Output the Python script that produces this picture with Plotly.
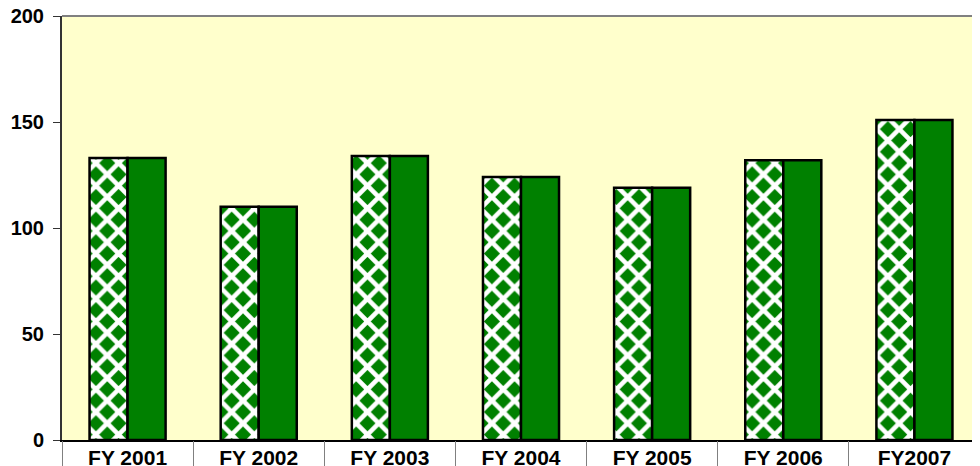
import plotly.graph_objects as go

categories = ["FY 2001", "FY 2002", "FY 2003", "FY 2004", "FY 2005", "FY 2006", "FY2007"]
series_a = [133, 110, 134, 124, 119, 132, 151]
series_b = [133, 110, 134, 124, 119, 132, 151]
y_ticks = [0, 50, 100, 150, 200]

GREEN = "#008000"
FONT = "Liberation Sans, Arial, sans-serif"

fig = go.Figure()
fig.add_trace(go.Bar(
    x=categories, y=series_a, name="A",
    marker=dict(color=GREEN,
                line=dict(color="black", width=2.5),
                pattern=dict(shape="x", fgcolor="white", bgcolor=GREEN,
                             size=16, solidity=0.5, fillmode="replace")),
))
fig.add_trace(go.Bar(
    x=categories, y=series_b, name="B",
    marker=dict(color=GREEN, line=dict(color="black", width=2.5)),
))
# overlay axis for category separators below the plot
fig.add_trace(go.Bar(x=categories, y=[None]*len(categories), xaxis="x2",
                     showlegend=False, hoverinfo="skip"))

# the page body adds an 8px offset, so margins compensate for it
fig.update_layout(
    width=980, height=466,
    margin=dict(l=54, r=8, t=8, b=34, autoexpand=False),
    paper_bgcolor="white", plot_bgcolor="#FFFFCC",
    barmode="group", bargap=0.42, bargroupgap=0,
    showlegend=False,
    font=dict(family=FONT, size=20, color="black"),
    xaxis=dict(type="category", showline=True, linecolor="black", linewidth=2,
               ticks="", showgrid=False, zeroline=False, automargin=False,
               tickfont=dict(family=FONT, size=21, color="black", weight="bold"),
               ticklabelstandoff=-2, ticklabeloverflow="allow"),
    xaxis2=dict(type="category", overlaying="x", matches="x", showticklabels=False,
                ticks="outside", tickson="boundaries", ticklen=34, tickcolor="#808080",
                tickwidth=1, showgrid=False, zeroline=False, showline=False,
                anchor="y", automargin=False),
    yaxis=dict(range=[0, 200], tickvals=y_ticks, showgrid=False, zeroline=False,
               showline=True, linecolor="#333333", linewidth=2, automargin=False,
               ticks="outside", ticklen=7, tickcolor="#333333", tickwidth=1,
               tickfont=dict(family=FONT, size=20, color="black", weight="bold"),
               ticklabelstandoff=5, ticklabeloverflow="allow"),
    shapes=[dict(type="line", xref="paper", yref="paper", x0=0, x1=1, y0=1, y1=1,
                 line=dict(color="#808080", width=2))],
)

fig.write_html("out.html")
